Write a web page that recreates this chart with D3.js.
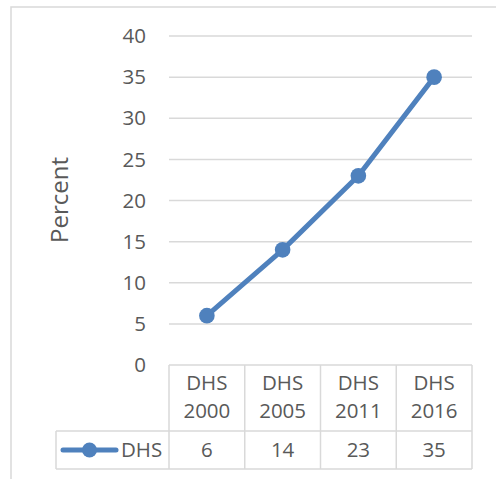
<!DOCTYPE html>
<html><head><meta charset="utf-8">
<script src="https://cdn.jsdelivr.net/npm/d3@7"></script>
<style>body{margin:0;background:#fff}svg{display:block}</style>
</head><body>
<script>
const categories = [["DHS","2000"],["DHS","2005"],["DHS","2011"],["DHS","2016"]];
const seriesName = "DHS";
const values = [6, 14, 23, 35];
const yTicks = [0,5,10,15,20,25,30,35,40];

(function(){
const W=496,H=479;
const svg=d3.select("body").append("svg").attr("width",W).attr("height",H);
const font="'Open Sans', 'Liberation Sans', sans-serif";
const txt="#595959", grid="#d9d9d9", blue="#4f81bd";
const fs=20.5;

// chart border
svg.append("rect").attr("x",11).attr("y",7).attr("width",W).attr("height",H).attr("fill","none").attr("stroke",grid).attr("stroke-width",1.5);

const pLeft=169,pRight=472,pTop=36,pBottom=365;
const y=d3.scaleLinear().domain([0,40]).range([pBottom,pTop]);
const x=d3.scaleBand().domain(categories.map((d,i)=>i)).range([pLeft,pRight]);

// gridlines
svg.append("g").selectAll("line").data(yTicks.filter(t=>t>0)).join("line")
  .attr("x1",pLeft).attr("x2",pRight).attr("y1",d=>y(d)).attr("y2",d=>y(d))
  .attr("stroke",grid).attr("stroke-width",1.5);

// y tick labels
svg.append("g").selectAll("text").data(yTicks).join("text")
  .attr("x",146).attr("y",d=>y(d)).attr("dy","0.35em").attr("text-anchor","end")
  .attr("font-family",font).attr("font-size",fs).attr("fill",txt).text(d=>d);

// axis title
svg.append("text").attr("transform","translate(60,200) rotate(-90)")
  .attr("text-anchor","middle").attr("dy","0.35em").attr("font-family",font).attr("font-size",24).attr("fill",txt).text("Percent");

// table
const hdrBottom=431, rowBottom=469, legLeft=56;
const tg=svg.append("g").attr("stroke",grid).attr("stroke-width",1.5);
tg.append("line").attr("x1",pLeft).attr("x2",pRight).attr("y1",pBottom).attr("y2",pBottom);
tg.append("line").attr("x1",legLeft).attr("x2",pRight).attr("y1",hdrBottom).attr("y2",hdrBottom);
tg.append("line").attr("x1",legLeft).attr("x2",pRight).attr("y1",rowBottom).attr("y2",rowBottom);
tg.append("line").attr("x1",legLeft).attr("x2",legLeft).attr("y1",hdrBottom).attr("y2",rowBottom);
const edges=categories.map((d,i)=>x(i)).concat([pRight]);
tg.selectAll(".v").data(edges).join("line").attr("x1",d=>d).attr("x2",d=>d).attr("y1",pBottom).attr("y2",rowBottom);

// header labels
categories.forEach((c,i)=>{
  const cx=x(i)+x.bandwidth()/2;
  c.forEach((s,j)=>{
    svg.append("text").attr("x",cx).attr("y",383+j*28).attr("dy","0.35em").attr("text-anchor","middle")
      .attr("font-family",font).attr("font-size",fs).attr("fill",txt).text(s);
  });
  svg.append("text").attr("x",cx).attr("y",450).attr("dy","0.35em").attr("text-anchor","middle")
    .attr("font-family",font).attr("font-size",fs).attr("fill",txt).text(values[i]);
});

// legend key
svg.append("line").attr("x1",63).attr("x2",116).attr("y1",450).attr("y2",450).attr("stroke",blue).attr("stroke-width",5).attr("stroke-linecap","round");
svg.append("circle").attr("cx",89.5).attr("cy",450).attr("r",7.5).attr("fill",blue);
svg.append("text").attr("x",121).attr("y",450).attr("dy","0.35em").attr("font-family",font).attr("font-size",fs).attr("fill",txt).text(seriesName);

// line
const line=d3.line().x((d,i)=>x(i)+x.bandwidth()/2).y(d=>y(d));
svg.append("path").datum(values).attr("d",line).attr("fill","none").attr("stroke",blue).attr("stroke-width",5).attr("stroke-linejoin","round");
svg.append("g").selectAll("circle").data(values).join("circle")
  .attr("cx",(d,i)=>x(i)+x.bandwidth()/2).attr("cy",d=>y(d)).attr("r",7.8).attr("fill",blue);
})();
</script>
</body></html>
